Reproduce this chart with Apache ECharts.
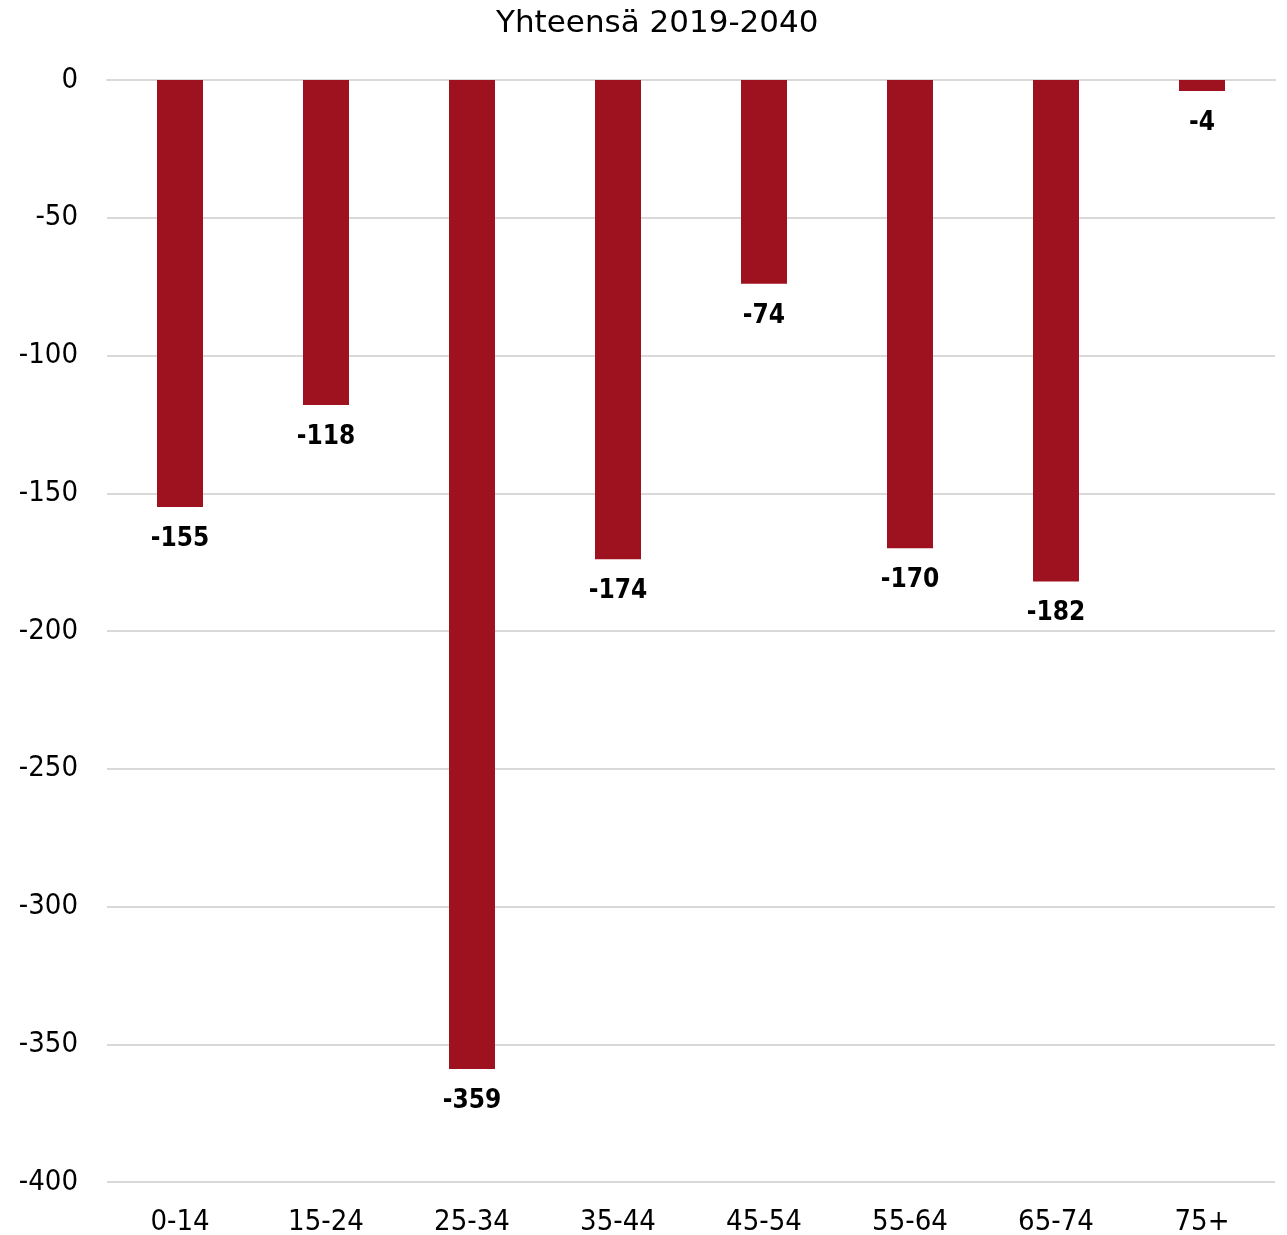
<!DOCTYPE html>
<html>
<head>
<meta charset="utf-8">
<script src="https://cdn.jsdelivr.net/npm/echarts@6/dist/echarts.min.js"></script>
<style>html,body{margin:0;padding:0;background:#fff}#c{width:1287px;height:1235px}</style>
</head>
<body>
<div id="c"></div>
<script>
const title = 'Yhteensä 2019-2040';
const categories = ['0-14', '15-24', '25-34', '35-44', '45-54', '55-64', '65-74', '75+'];
const values = [-155, -118, -359, -174, -74, -170, -182, -4];
const yMin = -400, yMax = 0, yInterval = 50;

const FONT = '"DejaVu Sans Condensed", "DejaVu Sans", sans-serif';
const chart = echarts.init(document.getElementById('c'));
chart.setOption({
  animation: false,
  title: {
    text: title, left: 491, top: 3,
    textStyle: { fontFamily: '"DejaVu Sans", sans-serif', fontSize: 31, fontWeight: 'normal', color: '#000' }
  },
  grid: { left: 107, right: 12, top: 80, bottom: 53, containLabel: false, outerBoundsMode: 'none' },
  xAxis: {
    type: 'category', data: categories,
    axisLine: { show: true, lineStyle: { color: '#d9d9d9', width: 2 } },
    axisTick: { show: false },
    axisLabel: { fontFamily: FONT, fontSize: 29, color: '#000', margin: 26 }
  },
  yAxis: {
    type: 'value', min: yMin, max: yMax, interval: yInterval,
    axisLine: { show: false }, axisTick: { show: false },
    splitLine: { lineStyle: { color: '#d9d9d9', width: 2 } },
    axisLabel: { fontFamily: FONT, fontSize: 29, color: '#000', margin: 29 }
  },
  series: [{
    type: 'bar', data: values, barWidth: 46,
    itemStyle: { color: '#9e121f' },
    label: {
      show: true, position: 'bottom', distance: 19,
      fontFamily: FONT, fontWeight: 'bold', fontSize: 26, color: '#000'
    }
  }]
});
</script>
</body>
</html>
